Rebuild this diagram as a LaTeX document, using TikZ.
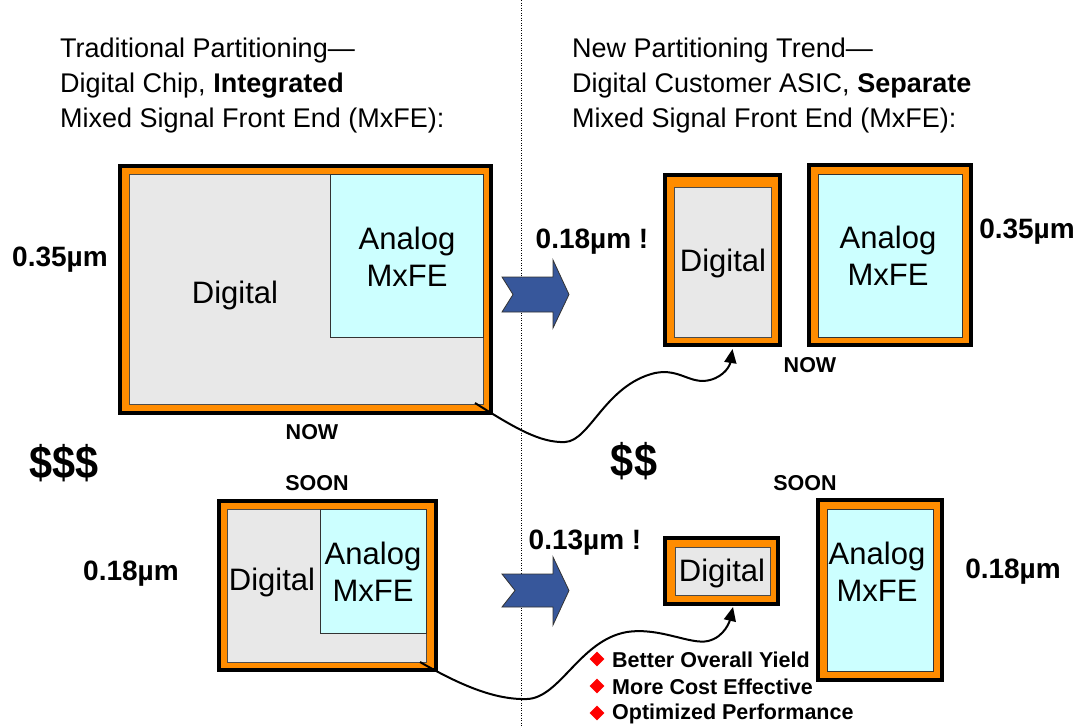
\documentclass[tikz,border=0pt]{standalone}
\usepackage{fontspec}
\setmainfont{Liberation Sans}
\usetikzlibrary{shapes.geometric,arrows.meta,calc}
\definecolor{chiporange}{RGB}{255,140,0}
\definecolor{diggray}{RGB}{232,232,232}
\definecolor{anacyan}{RGB}{204,255,255}
\definecolor{arrowblue}{RGB}{55,87,155}
\begin{document}
\begin{tikzpicture}[x=1pt,y=-1pt,
  chipframe/.style={draw=black, line width=4pt, fill=chiporange, inner sep=0pt},
  digbox/.style={draw=black!70, line width=0.8pt, fill=diggray, inner sep=0pt},
  anabox/.style={draw=black!80, line width=0.8pt, fill=anacyan, inner sep=0pt},
  chiptext/.style={font=\fontsize{31}{37}\selectfont, align=center, inner sep=0pt},
  hdr/.style={font=\fontsize{27}{33}\selectfont, anchor=base west, inner sep=0pt},
  lbl/.style={font=\fontsize{28}{30}\selectfont\bfseries, inner sep=0pt},
  tag/.style={font=\fontsize{21.5}{24}\selectfont\bfseries, inner sep=0pt},
  money/.style={font=\fontsize{46}{50}\selectfont\bfseries, inner sep=0pt},
  bullet/.style={diamond, fill=red, minimum width=15pt, minimum height=15pt, inner sep=0pt},
  btext/.style={font=\fontsize{21.5}{24}\selectfont\bfseries, anchor=west, inner sep=0pt},
  wire/.style={line width=2pt, -{Triangle[length=14pt,width=12pt]}},
  bigarrow/.style={fill=arrowblue, draw=black!80, line width=0.8pt}
]
\useasboundingbox (0,0) rectangle (1081,726);
\fill[white] (0,0) rectangle (1081,726);

% divider
\draw[line width=0.9pt, dash pattern=on 1pt off 1.5pt] (521,0) -- (521,726);

% headers
\node[hdr] (h1) at (60,57) {Traditional Partitioning—};
\node[hdr] (h2) at (60,92) {Digital Chip, \textbf{Integrated}};
\node[hdr] (h3) at (60,127) {Mixed Signal Front End (MxFE):};
\node[hdr] (r1) at (572,57) {New Partitioning Trend—};
\node[hdr] (r2) at (572,92) {Digital Customer ASIC, \textbf{Separate}};
\node[hdr] (r3) at (572,127) {Mixed Signal Front End (MxFE):};

% chip 1 (integrated, now)
\node[chipframe, minimum width=371pt, minimum height=247pt] (c1) at (305.5,289.5) {};
\node[digbox, minimum width=354pt, minimum height=230pt] (d1) at (306,289) {};
\node[anabox, minimum width=153pt, minimum height=163pt] (a1) at (406.5,255.5) {};
\node[chiptext] (d1t) at (235,295) {Digital};
\node[chiptext] (a1t) at (407,257) {Analog\\MxFE};

% chip 2 (digital, now)
\node[chipframe, minimum width=115pt, minimum height=170pt] (c2) at (722.5,260) {};
\node[digbox, minimum width=97pt, minimum height=150pt] (d2) at (722.5,262) {};
\node[chiptext] (d2t) at (723,263) {Digital};

% chip 3 (analog, now)
\node[chipframe, minimum width=162pt, minimum height=180pt] (c3) at (890,255) {};
\node[anabox, minimum width=144pt, minimum height=163pt] (a3) at (890,255.5) {};
\node[chiptext] (a3t) at (888,256) {Analog\\MxFE};

% chip 4 (integrated, soon)
\node[chipframe, minimum width=217pt, minimum height=169pt] (c4) at (327.5,585.5) {};
\node[digbox, minimum width=199pt, minimum height=153pt] (d4) at (326.5,585.5) {};
\node[anabox, minimum width=106pt, minimum height=124pt] (a4) at (373,571) {};
\node[chiptext] (d4t) at (272,582) {Digital};
\node[chiptext] (a4t) at (373,572) {Analog\\MxFE};

% chip 5 (digital, soon)
\node[chipframe, minimum width=113pt, minimum height=66pt] (c5) at (721.5,571) {};
\node[digbox, minimum width=95pt, minimum height=48pt] (d5) at (722.5,571) {};
\node[chiptext] (d5t) at (722,573) {Digital};

% chip 6 (analog, soon)
\node[chipframe, minimum width=124pt, minimum height=180pt] (c6) at (880,590) {};
\node[anabox, minimum width=106pt, minimum height=162pt] (a6) at (880,590) {};
\node[chiptext] (a6t) at (877,572) {Analog\\MxFE};

% labels
\node[lbl] (l1) at (60,260) {0.35µm};
\node[lbl] (l2) at (592,242) {0.18µm !};
\node[lbl] (l3) at (1027,232) {0.35µm};
\node[lbl] (l4) at (131,574) {0.18µm};
\node[lbl] (l5) at (585,543) {0.13µm !};
\node[lbl] (l6) at (1013,572) {0.18µm};
\node[tag] (n1) at (312,432) {NOW};
\node[tag] (n2) at (810,365) {NOW};
\node[tag] (s1) at (317,483) {SOON};
\node[tag] (s2) at (805,483) {SOON};
\node[money] (m1) at (64,463) {\scalebox{0.9}[1]{\$\$\$}};
\node[money] (m2) at (634,461) {\scalebox{0.9}[1]{\$\$}};

% blue chevron arrows
\draw[bigarrow] (502,277) -- (553,277) -- (553,260) -- (569,294.5) -- (553,328) -- (553,312) -- (502,312) -- (513,294.5) -- cycle;
\draw[bigarrow] (502,574) -- (553,574) -- (553,557) -- (569,590.5) -- (553,625) -- (553,607) -- (502,607) -- (515,590.5) -- cycle;

% curved connectors
\coordinate (s1c) at (475,403);
\coordinate (t1c) at ($(c2.south)+(10,2)$);
\draw[wire] (s1c) .. controls (515,428) and (540,443) .. (565,442)
  .. controls (590,441) and (605,385) .. (655,373)
  .. controls (680,368) and (690,385) .. (710,380)
  .. controls (725,376) and (730,365) .. (t1c);
\coordinate (s2c) at (420,662);
\coordinate (t2c) at ($(c5.south)+(11.5,1)$);
\draw[wire] (s2c) .. controls (460,685) and (495,700) .. (527,699)
  .. controls (560,698) and (580,640) .. (627,632)
  .. controls (660,627) and (690,645) .. (708,641)
  .. controls (725,637) and (730,620) .. (t2c);

% bullets
\node[bullet] (b1) at (597,659) {};
\node[bullet] (b2) at (597,686) {};
\node[bullet] (b3) at (597,713) {};
\node[btext] (bt1) at (612,660) {Better Overall Yield};
\node[btext] (bt2) at (612,687) {More Cost Effective};
\node[btext] (bt3) at (612,714) {Optimized Performance};
\end{tikzpicture}
\end{document}
